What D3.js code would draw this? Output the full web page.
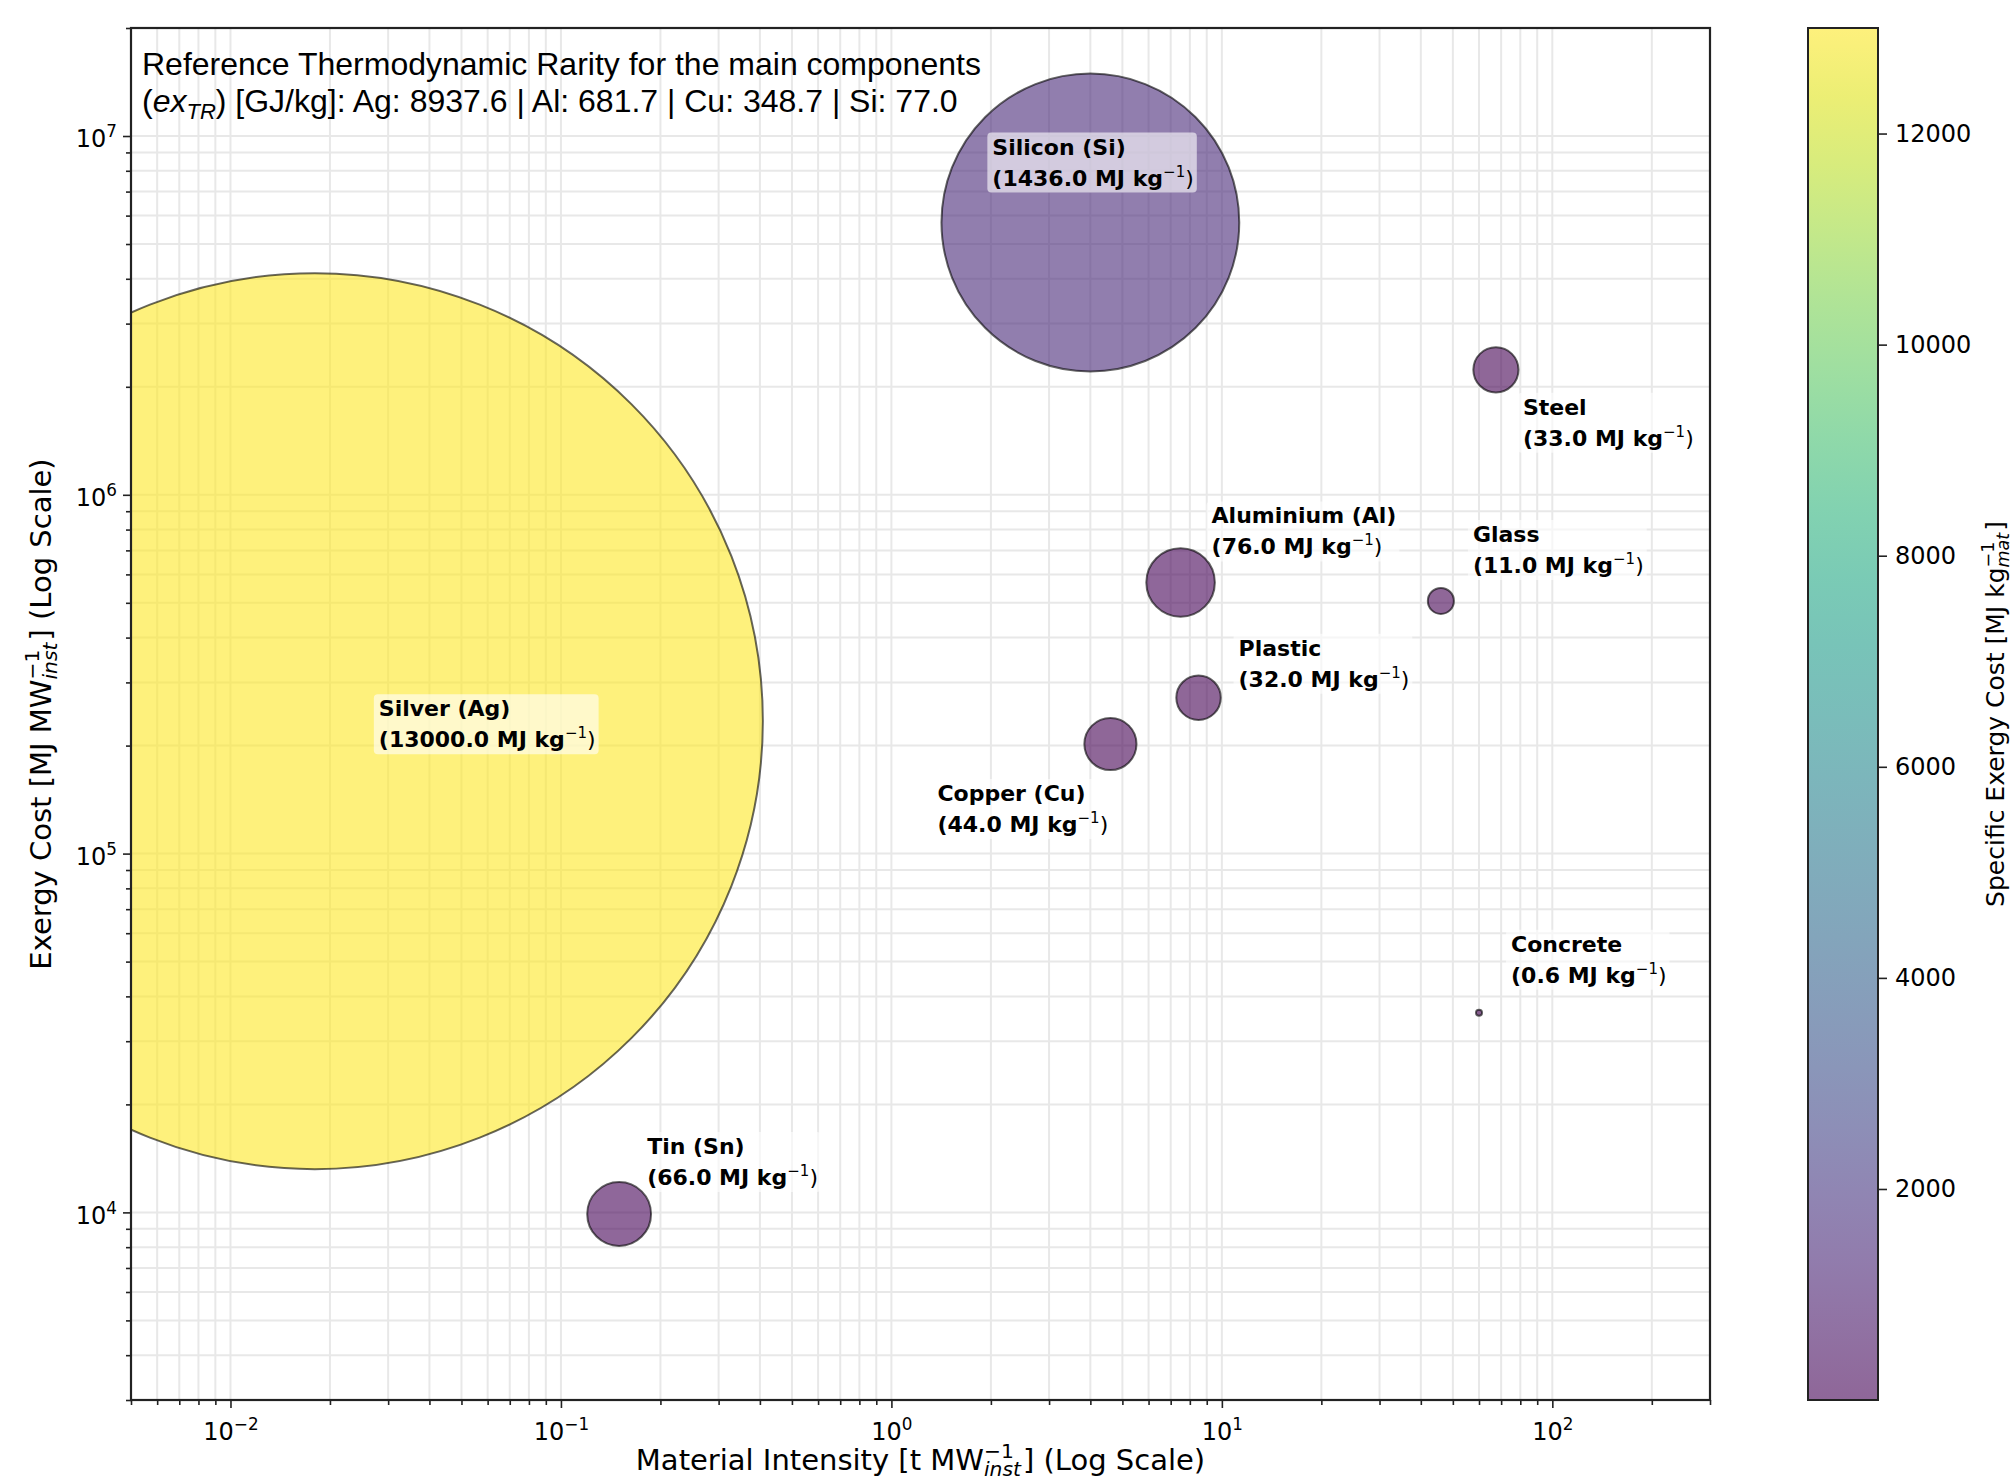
<!DOCTYPE html>
<html>
<head>
<meta charset="utf-8">
<script src="https://cdn.jsdelivr.net/npm/d3@7"></script>
<style>
  body { margin: 0; background: #fff; }
  text { font-family: "DejaVu Sans", sans-serif; }
</style>
</head>
<body>
<div id="chart"></div>
<script>
const width = 2010;
const height = 1484;
const margin = {top: 28, right: 300, bottom: 84, left: 131};

// values
const materials = ["Silver (Ag)", "Silicon (Si)", "Steel", "Aluminium (Al)", "Glass", "Plastic", "Copper (Cu)", "Concrete", "Tin (Sn)"];
const intensity = [0.018, 4.0, 67.5, 7.5, 46, 8.5, 4.6, 60, 0.15];
const exergyCost = [2.34e5, 5.74e6, 2.23e6, 5.7e5, 5.06e5, 2.72e5, 2.02e5, 3.6e4, 9.9e3];
const specificCost = [13000, 1436, 33, 76, 11, 32, 44, 0.6, 66];
const colorbarTicks = [2000, 4000, 6000, 8000, 10000, 12000];
const rarityNames = ["Ag", "Al", "Cu", "Si"];
const rarityValues = [8937.6, 681.7, 348.7, 77.0];

// where each annotation sits, relative to its bubble (px)
const labelOffsets = [[64, -5], [-98, -68], [27, 45], [31, -59], [32, -59], [40, -42], [-173, 57], [32, -61], [28, -60]];

const plotRight = 1710;
const plotBottom = height - margin.bottom; // 1400

const svg = d3.select("#chart")
    .append("svg")
        .attr("width", width)
        .attr("height", height);

svg.append("rect").attr("width", width).attr("height", height).attr("fill", "#fff");

const x = d3.scaleLog()
    .domain([0.005, 300])
    .range([margin.left, plotRight]);

const y = d3.scaleLog()
    .domain([3000, 2e7])
    .range([plotBottom, margin.top]);

const r = d3.scaleSqrt()
    .domain([0, 13000])
    .range([0, 448]);

const cmin = d3.min(specificCost), cmax = d3.max(specificCost);
const color = d3.scaleSequential(d3.interpolateViridis).domain([cmin, cmax]);

const isMajor = v => Math.abs(Math.log10(v) - Math.round(Math.log10(v))) < 1e-9;
const xTicks = x.ticks();
const yTicks = y.ticks();

// grid
const grid = svg.append("g")
    .attr("stroke", "#e8e8e8")
    .attr("stroke-width", 2);
grid.selectAll(".gx")
    .data(xTicks)
    .join("line")
        .attr("x1", d => x(d)).attr("x2", d => x(d))
        .attr("y1", margin.top).attr("y2", plotBottom);
grid.selectAll(".gy")
    .data(yTicks)
    .join("line")
        .attr("x1", margin.left).attr("x2", plotRight)
        .attr("y1", d => y(d)).attr("y2", d => y(d));

svg.append("clipPath")
    .attr("id", "plotClip")
    .append("rect")
        .attr("x", margin.left).attr("y", margin.top)
        .attr("width", plotRight - margin.left)
        .attr("height", plotBottom - margin.top);

const data = materials.map((m, i) => ({
    name: m,
    x: intensity[i],
    y: exergyCost[i],
    cost: specificCost[i],
    off: labelOffsets[i]
}));

svg.append("g")
    .attr("clip-path", "url(#plotClip)")
    .selectAll("circle")
    .data(data)
    .join("circle")
        .attr("cx", d => x(d.x))
        .attr("cy", d => y(d.y))
        .attr("r", d => r(d.cost))
        .attr("fill", d => color(d.cost))
        .attr("fill-opacity", 0.6)
        .attr("stroke", "#000")
        .attr("stroke-opacity", 0.6)
        .attr("stroke-width", 2);

// annotations
const labels = svg.append("g");
data.forEach(d => {
    const lx = x(d.x) + d.off[0];
    const ly = y(d.y) + d.off[1];
    const g = labels.append("g");
    const box = g.append("rect");
    const t = g.append("text")
        .attr("x", lx)
        .attr("y", ly)
        .attr("font-size", 22)
        .attr("font-weight", "bold")
        .attr("fill", "#000");
    t.append("tspan").text(d.name);
    t.append("tspan").attr("x", lx).attr("dy", 31)
        .text(`(${d.cost.toFixed(1)} MJ kg`);
    t.append("tspan").attr("dy", -9).attr("font-size", 15).attr("font-weight", "normal").text("\u22121");
    t.append("tspan").attr("dy", 9).attr("font-weight", "normal").text(")");
    const bb = t.node().getBBox();
    box.attr("x", bb.x - 5).attr("y", bb.y - 2)
        .attr("width", bb.width + 8).attr("height", bb.height + 4)
        .attr("rx", 4)
        .attr("fill", "#fff")
        .attr("fill-opacity", 0.6);
});

// axes
function powLabel(sel, v, size) {
    const e = Math.round(Math.log10(v));
    sel.text(null);
    sel.append("tspan").text("10");
    sel.append("tspan")
        .attr("dy", -size * 0.42)
        .attr("font-size", size * 0.7)
        .text(e < 0 ? "\u2212" + (-e) : e);
}

const xMajor = svg.append("g")
    .attr("transform", `translate(0,${plotBottom})`)
    .call(d3.axisBottom(x).tickValues(xTicks.filter(isMajor)).tickSize(8).tickPadding(10));
xMajor.selectAll("text")
    .attr("font-size", 24)
    .attr("dy", "0.9em")
    .each(function(v) { powLabel(d3.select(this), v, 24); });

svg.append("g")
    .attr("transform", `translate(0,${plotBottom})`)
    .call(d3.axisBottom(x).tickValues(xTicks.filter(v => !isMajor(v))).tickSize(5).tickFormat(""));

const yMajor = svg.append("g")
    .attr("transform", `translate(${margin.left},0)`)
    .call(d3.axisLeft(y).tickValues(yTicks.filter(isMajor)).tickSize(8).tickPadding(6));
yMajor.selectAll("text")
    .attr("font-size", 24)
    .attr("dy", "0.45em")
    .each(function(v) { powLabel(d3.select(this), v, 24); });

svg.append("g")
    .attr("transform", `translate(${margin.left},0)`)
    .call(d3.axisLeft(y).tickValues(yTicks.filter(v => !isMajor(v))).tickSize(5).tickFormat(""));

svg.selectAll(".domain").remove();
svg.selectAll(".tick line").attr("stroke", "#222").attr("stroke-width", 1.6);
svg.selectAll(".tick text").attr("fill", "#000");

// frame
svg.append("rect")
    .attr("x", margin.left).attr("y", margin.top)
    .attr("width", plotRight - margin.left)
    .attr("height", plotBottom - margin.top)
    .attr("fill", "none")
    .attr("stroke", "#222")
    .attr("stroke-width", 2.2);

// axis labels with stacked sub/superscripts
function unitLabel(t, before, sub, after, size) {
    t.append("tspan").text(before);
    const sup = t.append("tspan").attr("dy", -size * 0.4).attr("font-size", size * 0.7).text("\u22121");
    const w = sup.node().getComputedTextLength();
    const s = t.append("tspan").attr("dx", -w).attr("dy", size * 0.62)
        .attr("font-size", size * 0.7).attr("font-style", "italic").text(sub);
    const ws = s.node().getComputedTextLength();
    t.append("tspan").attr("dx", Math.max(0, w - ws) + 2).attr("dy", -size * 0.22).text(after);
}

const xLabel = svg.append("text")
    .attr("x", (margin.left + plotRight) / 2)
    .attr("y", 1470)
    .attr("text-anchor", "middle")
    .attr("font-size", 29);
unitLabel(xLabel, "Material Intensity [t MW", "inst", "] (Log Scale)", 29);

const yLabel = svg.append("text")
    .attr("transform", `translate(51,${(margin.top + plotBottom) / 2}) rotate(-90)`)
    .attr("text-anchor", "middle")
    .attr("font-size", 29);
unitLabel(yLabel, "Exergy Cost [MJ MW", "inst", "] (Log Scale)", 29);

// info text
const info = svg.append("text")
    .attr("x", 142)
    .attr("y", 75)
    .style("font-family", "'Liberation Sans', Arial, sans-serif")
    .attr("font-size", 32)
    .attr("fill", "#000");
info.append("tspan").text("Reference Thermodynamic Rarity for the main components");
info.append("tspan").attr("x", 142).attr("dy", 37).text("(");
info.append("tspan").attr("font-style", "italic").text("ex");
info.append("tspan").attr("font-style", "italic").attr("font-size", 22).attr("dy", 7).text("TR");
info.append("tspan").attr("dy", -7)
    .text(") [GJ/kg]: " + rarityNames.map((n, i) => `${n}: ${rarityValues[i].toFixed(1)}`).join(" | "));

// colorbar
const cbX = 1808, cbW = 70;
const cy = d3.scaleLinear().domain([cmin, cmax]).range([plotBottom, margin.top]);

const grad = svg.append("defs").append("linearGradient")
    .attr("id", "cbGrad")
    .attr("x1", 0).attr("x2", 0).attr("y1", 1).attr("y2", 0);
grad.selectAll("stop")
    .data(d3.range(0, 1.0001, 0.05))
    .join("stop")
        .attr("offset", d => d)
        .attr("stop-color", d => d3.interpolateViridis(d));

svg.append("rect")
    .attr("x", cbX).attr("y", margin.top)
    .attr("width", cbW).attr("height", plotBottom - margin.top)
    .attr("fill", "url(#cbGrad)")
    .attr("opacity", 0.6);
svg.append("rect")
    .attr("x", cbX).attr("y", margin.top)
    .attr("width", cbW).attr("height", plotBottom - margin.top)
    .attr("fill", "none")
    .attr("stroke", "#222")
    .attr("stroke-width", 2);

const cbAxis = svg.append("g")
    .attr("transform", `translate(${cbX + cbW},0)`)
    .call(d3.axisRight(cy).tickValues(colorbarTicks).tickSize(9).tickPadding(8).tickFormat(d3.format("d")));
cbAxis.select(".domain").remove();
cbAxis.selectAll("line").attr("stroke", "#222").attr("stroke-width", 1.6);
cbAxis.selectAll("text").attr("font-size", 24).attr("fill", "#000");

const cbLabel = svg.append("text")
    .attr("transform", `translate(2004,${(margin.top + plotBottom) / 2}) rotate(-90)`)
    .attr("text-anchor", "middle")
    .attr("font-size", 25);
cbLabel.append("tspan").text("Specific Exergy Cost [MJ kg");
const cbSup = cbLabel.append("tspan").attr("dy", -10).attr("font-size", 17.5).text("\u22121");
const cbw = cbSup.node().getComputedTextLength();
cbLabel.append("tspan").attr("dx", -cbw).attr("dy", 15).attr("font-size", 17.5).attr("font-style", "italic").text("mat");
cbLabel.append("tspan").attr("dx", 2).attr("dy", -5).text("]");
</script>
</body>
</html>
